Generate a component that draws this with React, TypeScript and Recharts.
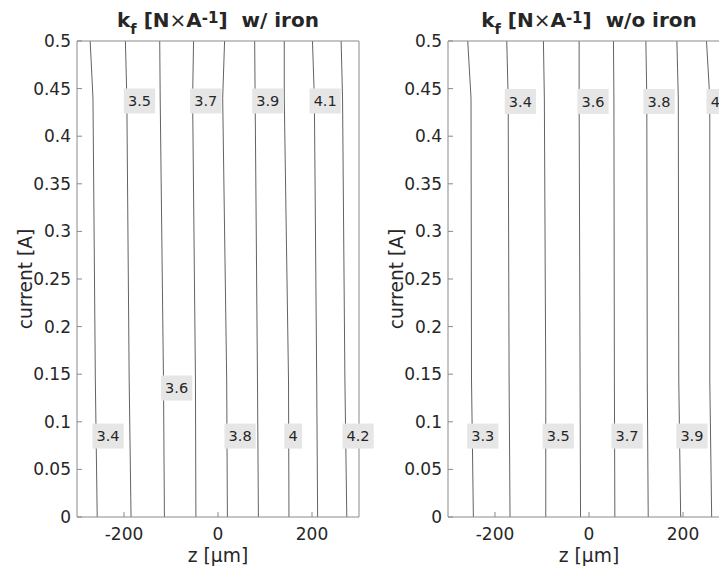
import React from 'react';
import { ComposedChart, Line, Scatter, XAxis, YAxis } from 'recharts';

// current samples (A) at which each contour's z position was read
const currentSamples = [0.5, 0.44, 0.144, 0];

// ---- w/ iron ----
const ironLevels = [3.4, 3.5, 3.6, 3.7, 3.8, 3.9, 4.0, 4.1, 4.2];
const ironContourZ = [
  [-272, -266, -261, -257],
  [-197, -194, -189, -185],
  [-124, -123, -116, -114],
  [-52, -54, -48, -47],
  [14, 10, 18.5, 20],
  [78, 79, 84, 86],
  [141, 141, 150, 151],
  [201, 205, 210, 212],
  [262, 265, 270, 274],
];
const ironLabelText = ['3.5', '3.7', '3.9', '4.1', '3.4', '3.6', '3.8', '4', '4.2'];
const ironLabelZ = [-167, -26, 106, 228, -234, -88, 47, 160, 298];
const ironLabelCurrent = [0.437, 0.437, 0.437, 0.437, 0.085, 0.1355, 0.085, 0.085, 0.085];

// ---- w/o iron ----
const airLevels = [3.3, 3.4, 3.5, 3.6, 3.7, 3.8, 3.9, 4.0];
const airContourZ = [
  [-258, -251, -250, -246],
  [-175, -172, -170, -168],
  [-97, -95, -92, -92],
  [-21, -21, -19, -18],
  [52, 53, 54, 55],
  [121, 123, 124, 126],
  [187, 190, 191, 195],
  [250, 257, 257, 261],
];
const airLabelText = ['3.4', '3.6', '3.8', '4', '3.3', '3.5', '3.7', '3.9'];
const airLabelZ = [-146, 8.5, 149, 269, -226, -65.5, 81, 219];
const airLabelCurrent = [0.4365, 0.4365, 0.4365, 0.4365, 0.085, 0.085, 0.085, 0.085];

const zTicks = [-200, 0, 200];
const currentTicks = [0, 0.05, 0.1, 0.15, 0.2, 0.25, 0.3, 0.35, 0.4, 0.45, 0.5];

const FONT = 'DejaVu Sans';
const AXIS_GRAY = '#8a8a8a';
const TEXT = '#262626';

function buildContours(levels: number[], zs: number[][]) {
  return levels.map((lv, i) => ({
    level: lv,
    points: zs[i].map((z, j) => ({ z, current: currentSamples[j] })),
  }));
}
function buildLabels(text: string[], zs: number[], cs: number[]) {
  return text.map((t, i) => ({ text: t, z: zs[i], current: cs[i] }));
}

function textWidth(s: string) {
  let w = 0;
  for (const ch of s) w += ch === '.' ? 0.318 : 0.636;
  return w * 14;
}

const LabelShape = (props: any) => {
  const { cx, cy, payload } = props;
  if (cx == null || cy == null) return null;
  const w = textWidth(payload.text) + 9;
  return (
    <g>
      <rect x={cx - w / 2} y={cy - 12.5} width={w} height={25} fill="#e6e6e6" />
      <text x={cx} y={cy} dy="0.36em" textAnchor="middle" fontSize={14.5} fill={TEXT} fontFamily={FONT}>
        {payload.text}
      </text>
    </g>
  );
};

function Title({ viewBox, suffix }: any) {
  const { x, y, width } = viewBox;
  return (
    <text
      x={x + width / 2}
      y={y - 13}
      textAnchor="middle"
      fontWeight="bold"
      fontSize={20}
      fill={TEXT}
      fontFamily={FONT}
      style={{ whiteSpace: 'pre' }}
    >
      <tspan>k</tspan>
      <tspan dy={7} fontSize={14.5}>f</tspan>
      <tspan dy={-7}> [N</tspan>
      <tspan fontWeight="normal">×</tspan>
      <tspan>A</tspan>
      <tspan dy={-4} fontSize={15}>-1</tspan>
      <tspan dy={4}>{']  ' + suffix}</tspan>
    </text>
  );
}

function Panel({ suffix, contours, labels }: any) {
  return (
    <ComposedChart width={370} height={559} margin={{ top: 32, right: 18, bottom: 0, left: 0 }}>
      <XAxis
        type="number"
        dataKey="z"
        domain={[-300, 300]}
        ticks={zTicks}
        height={50}
        tickSize={-5}
        tickMargin={16}
        axisLine={{ stroke: AXIS_GRAY }}
        tickLine={{ stroke: AXIS_GRAY }}
        tick={{ fill: TEXT, fontSize: 17, fontFamily: FONT }}
        label={(p: any) => (
          <text
            x={p.viewBox.x + p.viewBox.width / 2}
            y={p.viewBox.y + 45}
            textAnchor="middle"
            fontSize={18.7}
            fill={TEXT}
            fontFamily={FONT}
          >
            z [μm]
          </text>
        )}
      />
      <XAxis
        xAxisId="top"
        orientation="top"
        type="number"
        dataKey="z"
        domain={[-300, 300]}
        ticks={zTicks}
        height={1}
        tickSize={-5}
        tick={false}
        axisLine={{ stroke: AXIS_GRAY }}
        tickLine={{ stroke: AXIS_GRAY }}
        label={(p: any) => <Title viewBox={p.viewBox} suffix={suffix} />}
      />
      <YAxis
        type="number"
        dataKey="current"
        domain={[0, 0.5]}
        ticks={currentTicks}
        width={69}
        tickSize={-5}
        tickMargin={11}
        axisLine={{ stroke: AXIS_GRAY }}
        tickLine={{ stroke: AXIS_GRAY }}
        tick={{ fill: TEXT, fontSize: 17, fontFamily: FONT }}
        label={(p: any) => {
          const cx = p.viewBox.x + 24;
          const cy = p.viewBox.y + p.viewBox.height / 2;
          return (
            <text
              x={cx}
              y={cy}
              transform={`rotate(-90, ${cx}, ${cy})`}
              textAnchor="middle"
              fontSize={18.7}
              fill={TEXT}
              fontFamily={FONT}
            >
              current [A]
            </text>
          );
        }}
      />
      <YAxis
        yAxisId="right"
        orientation="right"
        type="number"
        dataKey="current"
        domain={[0, 0.5]}
        ticks={currentTicks}
        width={1}
        tickSize={-5}
        tick={false}
        axisLine={{ stroke: AXIS_GRAY }}
        tickLine={{ stroke: AXIS_GRAY }}
      />
      {contours.map((c: any) => (
        <Line
          key={c.level}
          data={c.points}
          dataKey="current"
          stroke="#3a3a3a"
          strokeWidth={0.8}
          dot={false}
          activeDot={false}
          isAnimationActive={false}
          type="linear"
        />
      ))}
      <Scatter
        xAxisId="top"
        yAxisId="right"
        data={labels}
        dataKey="current"
        shape={LabelShape}
        isAnimationActive={false}
      />
    </ComposedChart>
  );
}

export default function App() {
  const ironContours = buildContours(ironLevels, ironContourZ);
  const airContours = buildContours(airLevels, airContourZ);
  const ironLabels = buildLabels(ironLabelText, ironLabelZ, ironLabelCurrent);
  const airLabels = buildLabels(airLabelText, airLabelZ, airLabelCurrent);
  return (
    <div style={{ position: 'relative', width: 719, height: 559, overflow: 'hidden', background: '#fff' }}>
      <div style={{ position: 'absolute', left: 0, top: 0 }}>
        <Panel suffix="w/ iron" contours={ironContours} labels={ironLabels} />
      </div>
      <div style={{ position: 'absolute', left: 371, top: 0 }}>
        <Panel suffix="w/o iron" contours={airContours} labels={airLabels} />
      </div>
    </div>
  );
}
